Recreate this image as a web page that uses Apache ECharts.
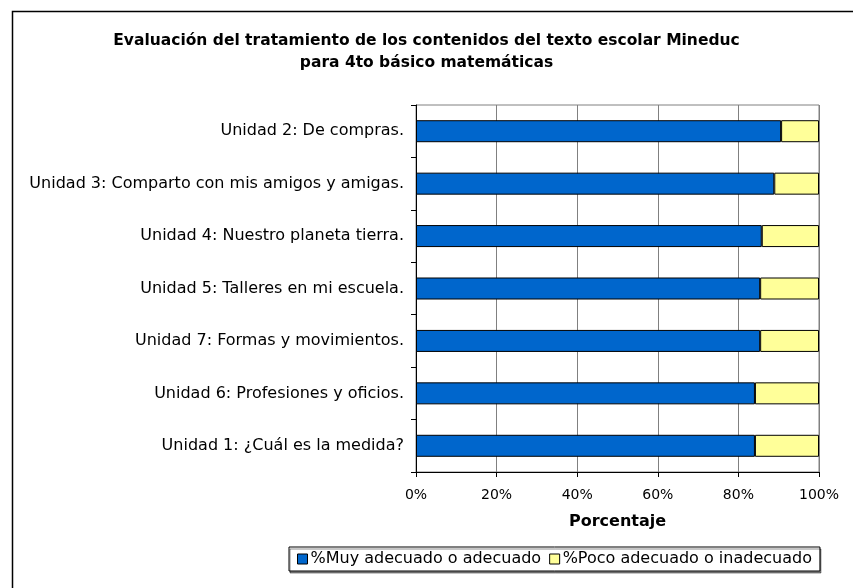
<!DOCTYPE html>
<html>
<head>
<meta charset="utf-8">
<script src="https://cdn.jsdelivr.net/npm/echarts@6/dist/echarts.min.js"></script>
<style>
  html, body { margin: 0; padding: 0; background: #fff; }
  #chart { width: 853px; height: 588px; }
</style>
</head>
<body>
<div id="chart"></div>
<script>
// unidades, de arriba hacia abajo
const unidades = [
  'Unidad 2: De compras.',
  'Unidad 3: Comparto con mis amigos y amigas.',
  'Unidad 4: Nuestro planeta tierra.',
  'Unidad 5: Talleres en mi escuela.',
  'Unidad 7: Formas y movimientos.',
  'Unidad 6: Profesiones y oficios.',
  'Unidad 1: ¿Cuál es la medida?'
];
const muyAdecuado = [90.6, 88.9, 85.8, 85.4, 85.4, 84.1, 84.1];
const pocoAdecuado = [9.4, 11.1, 14.2, 14.6, 14.6, 15.9, 15.9];

const font = 'DejaVu Sans';
const chart = echarts.init(document.getElementById('chart'));

const option = {
  animation: false,
  backgroundColor: '#fff',
  title: {
    text: 'Evaluación del tratamiento de los contenidos del texto escolar Mineduc\npara 4to básico matemáticas',
    left: 'center',
    top: 25,
    textStyle: { fontFamily: font, fontSize: 15.5, fontWeight: 'bold', color: '#000', lineHeight: 22 }
  },
  grid: {
    left: 416, right: 34, top: 105, bottom: 116,
    show: true, borderColor: '#808080', borderWidth: 1
  },
  legend: {
    left: 289, top: 547,
    data: ['%Muy adecuado o adecuado', '%Poco adecuado o inadecuado'],
    icon: 'rect', itemWidth: 10, itemHeight: 10, itemGap: 8,
    backgroundColor: '#fff',
    borderColor: '#000', borderWidth: 1, padding: [4, 8, 4, 8],
    shadowColor: 'rgba(0,0,0,0.45)', shadowOffsetX: 1, shadowOffsetY: 2, shadowBlur: 0,
    itemStyle: { borderColor: '#000', borderWidth: 1 },
    textStyle: { fontFamily: font, fontSize: 16, color: '#000', padding: [0, 0, 0, -2] }
  },
  xAxis: {
    type: 'value', min: 0, max: 100, interval: 20,
    name: 'Porcentaje', nameLocation: 'middle', nameGap: 42,
    nameTextStyle: { fontFamily: font, fontSize: 16, fontWeight: 'bold', color: '#000' },
    axisLine: { show: true, lineStyle: { color: '#000', width: 1 } },
    axisTick: { show: true, length: 5, lineStyle: { color: '#000' } },
    axisLabel: { formatter: '{value}%', fontFamily: font, fontSize: 14, color: '#000', margin: 16 },
    splitLine: { show: true, lineStyle: { color: '#808080', width: 1 } }
  },
  yAxis: {
    type: 'category', inverse: true, data: unidades,
    axisLine: { lineStyle: { color: '#000', width: 1 } },
    axisTick: { show: true, length: 5, lineStyle: { color: '#000' } },
    axisLabel: { fontFamily: font, fontSize: 16, color: '#000', margin: 12 }
  },
  series: [
    {
      name: '%Muy adecuado o adecuado', type: 'bar', stack: 'total',
      data: muyAdecuado, barWidth: 22,
      itemStyle: { color: '#0066CC', borderColor: '#000', borderWidth: 1 }
    },
    {
      name: '%Poco adecuado o inadecuado', type: 'bar', stack: 'total',
      data: pocoAdecuado, barWidth: 22,
      itemStyle: { color: '#FFFF99', borderColor: '#000', borderWidth: 1 }
    }
  ],
  graphic: [
    {
      type: 'rect', silent: true, z: -1,
      shape: { x: 12.5, y: 11.5, width: 900, height: 700 },
      style: { fill: 'none', stroke: '#000', lineWidth: 1.5 }
    }
  ]
};

chart.setOption(option);
</script>
</body>
</html>
